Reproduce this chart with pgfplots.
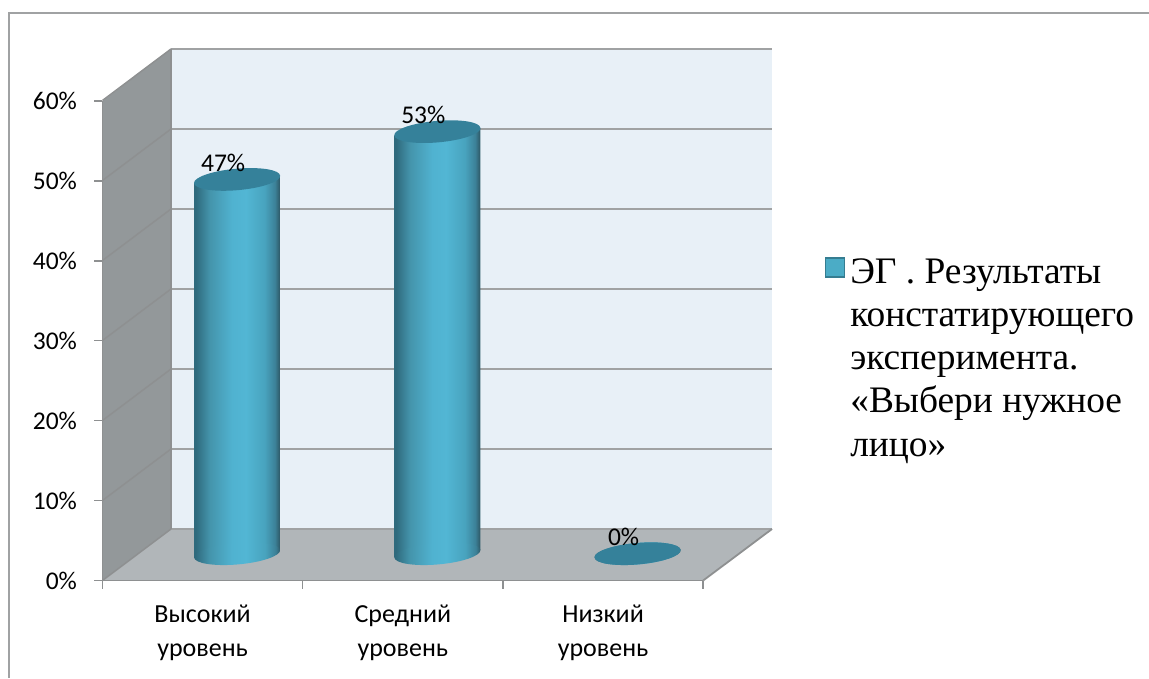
\documentclass[border=0pt]{standalone}
\usepackage{pgfplots}
\usepackage{pgfplotstable}
\pgfplotsset{compat=1.18}
\usepackage{fontspec}
\setmainfont{Carlito}
\newfontfamily\lgfont{Liberation Serif}
\usetikzlibrary{shapes.geometric}
\definecolor{wallc}{HTML}{E8F0F7}
\definecolor{gridc}{HTML}{A0A2A3}
\definecolor{axc}{HTML}{8E9091}
\definecolor{sidec}{HTML}{93989A}
\definecolor{floorc}{HTML}{B1B6B9}
\definecolor{capc}{HTML}{35819A}
\definecolor{swatch}{HTML}{4BACC6}
\definecolor{swatchb}{HTML}{357D91}
\definecolor{cyla}{HTML}{2F6A7D}
\definecolor{cylb}{HTML}{4494AB}
\definecolor{cylc}{HTML}{50B2D0}
\definecolor{cyld}{HTML}{52B6D4}
\definecolor{cylf}{HTML}{48A3BE}
\definecolor{cylg}{HTML}{3C8198}
\definecolor{cyle}{HTML}{2F5D6C}
\pgfdeclarehorizontalshading{cyl}{100bp}{
 color(0bp)=(cyla); color(26bp)=(cyla); color(34bp)=(cylb); color(47bp)=(cylc);
 color(55bp)=(cyld); color(66bp)=(cylf); color(72bp)=(cylg); color(74.5bp)=(cyle); color(100bp)=(cyle)}
\pgfplotstableread{
x v b
0.5 47 0
1.5 53 0
2.5 0 0
}\valtable
\begin{document}
\begin{tikzpicture}[x=1pt,y=1pt]
\useasboundingbox (0,0) rectangle (1149,678);
\draw[color=gridc,line width=2pt] (9,0) -- (9,665) -- (1149,665);
% back wall
\begin{axis}[at={(171pt,149pt)},anchor=south west,scale only axis,width=601pt,height=480pt,
  xmin=0,xmax=3,ymin=0,ymax=60,xtick=\empty,ytick={0,10,20,30,40,50,60},yticklabels={},
  major tick length=0pt,ymajorgrids,grid style={color=gridc,line width=2pt},
  axis line style={draw=none},axis background/.style={fill=wallc}]
\end{axis}
% side wall, floor
\fill[sidec] (102.5,97.5) -- (171,149) -- (171,629) -- (102.5,577) -- cycle;
\fill[floorc] (102.5,97.5) -- (703.2,97.5) -- (772,149) -- (171,149) -- cycle;
\draw[color=gridc,line width=2pt] (171,149) -- (772,149);
\draw[color=axc,line width=1.2pt] (171,149) -- (171,629);
\foreach \y in {0,80,...,480}{\draw[color=axc,line width=1.5pt] (102.5,97.5+\y) -- (171,149+\y);}
\draw[color=axc,line width=1.8pt] (703.2,97.5) -- (772,149);
% front axes
\begin{axis}[at={(102.5pt,97.5pt)},anchor=south west,scale only axis,width=600.7pt,height=479.5pt,
  xmin=0,xmax=3,ymin=0,ymax=60,
  axis x line=bottom,axis y line=left,axis line style={-,color=axc,line width=1.8pt},
  tick align=outside,major tick length=8pt,tick style={color=axc,line width=1.5pt},
  ytick={0,10,20,30,40,50,60},yticklabels={0\%,10\%,20\%,30\%,40\%,50\%,60\%},
  xtick={0,1,2,3},xticklabels={},
  extra x ticks={0.5,1.5,2.5},
  extra x tick labels={Высокий\\уровень,Средний\\уровень,Низкий\\уровень},
  extra x tick style={major tick length=0pt,tick style={draw=none}},
  x tick label style={align=center,font=\fontsize{26}{34}\selectfont,yshift=-21pt},
  y tick label style={font=\fontsize{25.5}{28}\selectfont,xshift=-14pt}]
\end{axis}
% cylinders
\begin{axis}[at={(137pt,124.3pt)},anchor=south west,scale only axis,width=600.7pt,height=477.8pt,
  xmin=0,xmax=3,ymin=0,ymax=60,axis lines=none,clip=false,
  /pgf/number format/assume math mode=true,
  legend style={at={(axis cs:3.433,37.4)},anchor=north west,draw=none,fill=none,inner sep=0pt,
    font=\lgfont\fontsize{37.4}{43.3}\selectfont,cells={anchor=north west,align=left}},
  legend image code/.code={\draw[fill=swatch,draw=swatchb,line width=1.4pt] (0pt,-21pt) rectangle (19pt,-2pt);
    \path[draw=none] (0pt,-10pt) -- (23pt,-10pt);}]
\addplot[only marks,mark=none,forget plot,nodes near coords={},
  every node near coord/.style={ellipse,inner sep=0pt,minimum width=86.5pt,minimum height=21.5pt,rotate=5,
    anchor=center,shade,shading=cyl}] table[x=x,y=b] {\valtable};
\addplot[ybar,bar width=86pt,bar shift=0pt,draw=none,shade,shading=cyl,yshift=-8.5pt,yslant=0.085,forget plot]
  coordinates {(0.5,47)};
\addplot[ybar,bar width=86pt,bar shift=0pt,draw=none,shade,shading=cyl,yshift=-25.5pt,yslant=0.085,forget plot]
  coordinates {(1.5,53)};
\addplot[only marks,mark=none,nodes near coords={},
  every node near coord/.style={ellipse,inner sep=0pt,minimum width=86.5pt,minimum height=21.5pt,rotate=5,
    anchor=center,fill=capc}] table[x=x,y=v] {\valtable};
\addlegendentry{ЭГ . Результаты\\констатирующего\\эксперимента.\\«Выбери нужное\\лицо»}
\addplot[only marks,mark=none,forget plot,point meta=y,
  nodes near coords={\pgfmathprintnumber{\pgfplotspointmeta}\%},
  every node near coord/.style={anchor=center,xshift=-14pt,yshift=16.5pt,inner sep=0pt,
    font=\fontsize{25.5}{28}\selectfont}] table[x=x,y=v] {\valtable};
\end{axis}
\end{tikzpicture}
\end{document}
